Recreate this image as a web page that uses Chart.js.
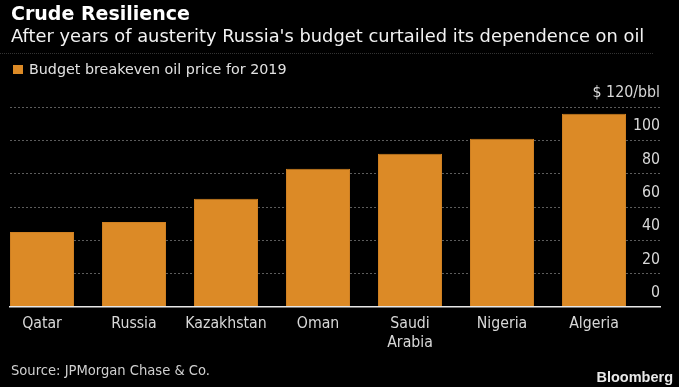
<!DOCTYPE html>
<html>
<head><meta charset="utf-8"><title>Crude Resilience</title>
<script src="https://cdn.jsdelivr.net/npm/chart.js"></script>
<style>
  html,body{margin:0;padding:0;background:#000;}
  #wrap{position:relative;width:679px;height:387px;background:#000;overflow:hidden;font-family:"DejaVu Sans",sans-serif;}
  #wrap div{position:absolute;white-space:nowrap;line-height:1;}
  canvas{position:absolute;left:0;top:0;}
  .title{left:11px;top:3.5px;font-weight:bold;font-size:19px;color:#fff;}
  .sub{left:11px;top:26.5px;font-size:17.85px;color:#f2f2f2;}
  .sep{left:0;top:53px;width:653px;border-top:1px dotted #333;}
  .sq{left:13px;top:65px;width:10px;height:9px;background:#dc8a26;}
  .leg{left:29px;top:62px;font-size:14.3px;color:#e2e2e2;}
  .src{left:11px;top:362.5px;font-family:"DejaVu Sans Condensed","DejaVu Sans",sans-serif;font-size:14.6px;color:#d0d0d0;}
  .bb{right:6px;top:369.5px;font-family:"Liberation Sans",Arial,sans-serif;font-weight:bold;font-size:14.5px;color:#e8e8e8;}
</style>
</head>
<body>
<div id="wrap">
  <canvas id="barChart" width="679" height="387"></canvas>
  <div class="title">Crude Resilience</div>
  <div class="sub">After years of austerity Russia's budget curtailed its dependence on oil</div>
  <div class="sep"></div>
  <div class="sq"></div>
  <div class="leg">Budget breakeven oil price for 2019</div>
  <div class="src">Source: JPMorgan Chase &amp; Co.</div>
  <div class="bb">Bloomberg</div>
</div>
<script>
    // datos
    const countries = ['Qatar', 'Russia', 'Kazakhstan', 'Oman', ['Saudi', 'Arabia'], 'Nigeria', 'Algeria'];
    const breakeven = [45, 51, 65, 83, 92, 101, 116];
    const yTicks = [0, 20, 40, 60, 80, 100, 120];

    const condensed = '"DejaVu Sans Condensed", "DejaVu Sans", sans-serif';

    new Chart(document.getElementById('barChart'), {
      type: 'bar',
      data: {
        datasets: [{
          label: 'Budget breakeven oil price for 2019',
          data: countries.map((c, i) => ({ x: i, y: breakeven[i] })),
          backgroundColor: '#dc8a26',
          borderColor: '#cf8022',
          borderWidth: 1,
          barPercentage: 64 / 92,
          categoryPercentage: 1
        }]
      },
      options: {
        responsive: false,
        animation: false,
        layout: { padding: { top: 107, left: 10, right: 19, bottom: 0 } },
        plugins: { legend: { display: false }, tooltip: { enabled: false } },
        scales: {
          x: {
            type: 'linear',
            offset: false,
            min: -32 / 92,
            max: -32 / 92 + 650 / 92,
            afterBuildTicks: s => { s.ticks = countries.map((c, i) => ({ value: i })); },
            afterFit: s => { s.height = 80; },
            grid: { display: false, drawTicks: false, offset: false },
            border: { display: true, color: '#e8e8e8', width: 1.5, z: 1 },
            ticks: {
              autoSkip: false, maxRotation: 0, padding: 8,
              color: '#d8d8d8', font: { family: condensed, size: 15.7 },
              callback: (v, i) => countries[i]
            }
          },
          y: {
            position: 'right',
            min: 0, max: 120,
            afterBuildTicks: s => { s.ticks = yTicks.map(v => ({ value: v })); },
            afterFit: s => { s.width = 0; },
            grid: {
              drawTicks: false,
              color: ctx => ctx.tick && ctx.tick.value === 0 ? 'rgba(0,0,0,0)' : '#5c5c5c',
              lineWidth: 1
            },
            border: { display: false, dash: ctx => (ctx.tick && ctx.tick.value === 0) ? [] : [2, 2] },
            ticks: {
              mirror: true, padding: 0, labelOffset: -14,
              color: '#d8d8d8', font: { family: condensed, size: 15.8 },
              callback: v => v === 120 ? '$ 120/bbl' : v
            }
          }
        }
      }
    });
</script>
</body>
</html>
